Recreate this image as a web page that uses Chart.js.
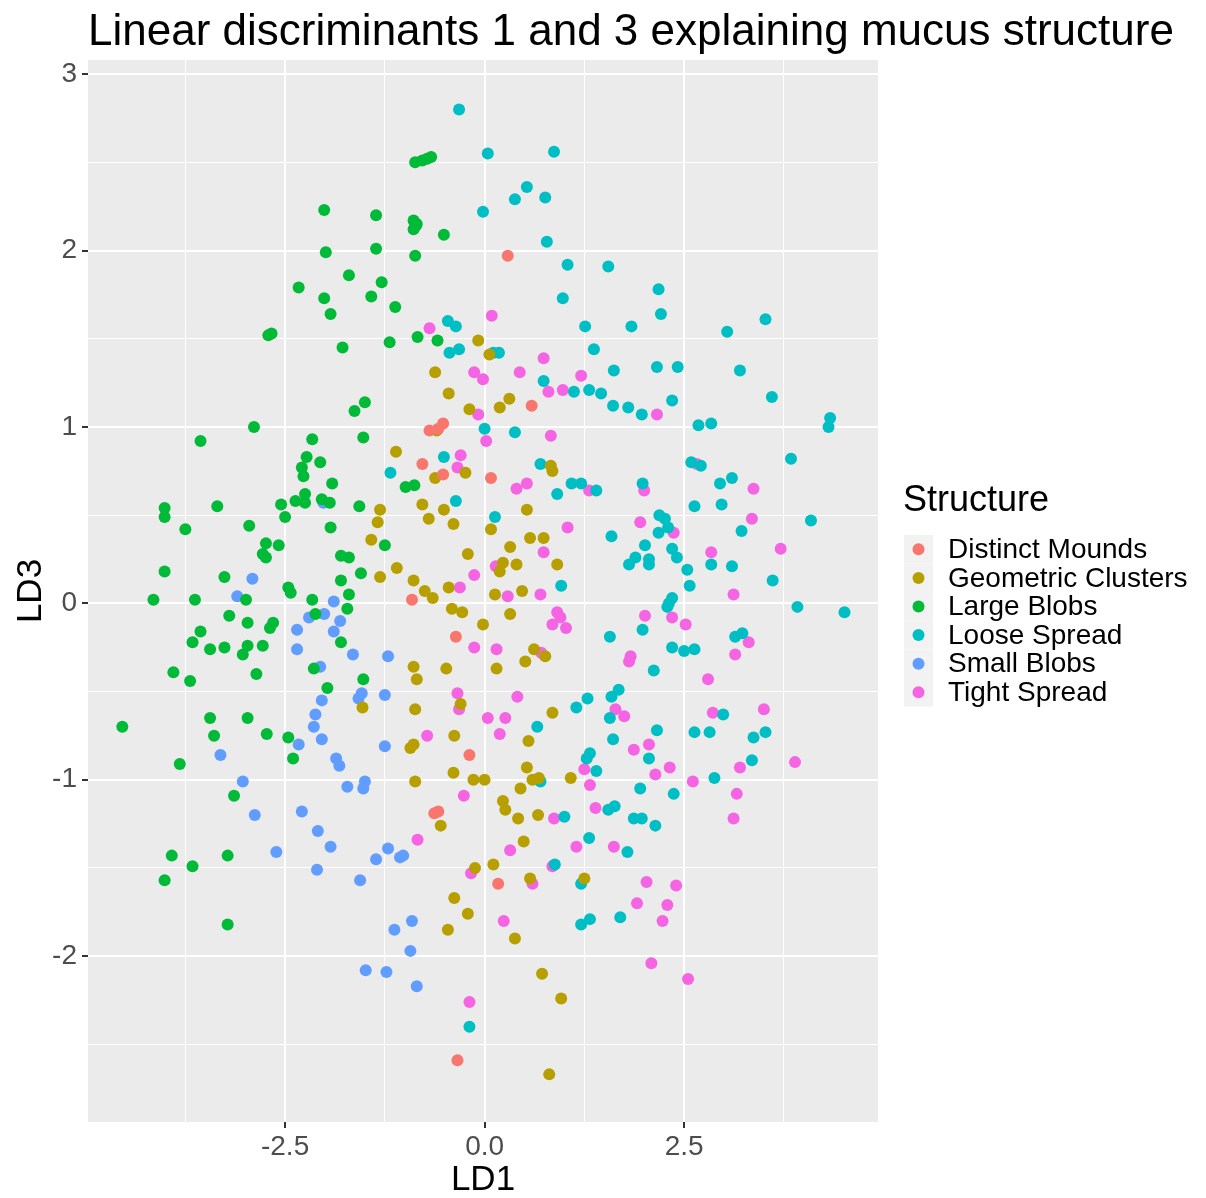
<!DOCTYPE html>
<html>
<head>
<meta charset="utf-8">
<script src="https://cdn.jsdelivr.net/npm/chart.js@4/dist/chart.umd.min.js"></script>
<style>
  html, body { margin: 0; padding: 0; background: #ffffff; }
  canvas { display: block; }
</style>
</head>
<body>
<canvas id="grafico" width="1206" height="1198"></canvas>
<script>
// LD1 / LD3 scores per structure class
const distinctMounds = [
  [0.29, 1.97], [0.59, 1.12], [-0.52, 1.02], [-0.58, 0.99], [-0.69, 0.98], [-0.78, 0.79],
  [-0.52, 0.73], [0.08, 0.71], [-0.91, 0.02], [-0.36, -0.19], [-0.19, -0.86], [-0.58, -1.18],
  [-0.63, -1.19], [0.17, -1.59], [-0.34, -2.59]
];
const geometricClusters = [
  [-0.08, 1.49], [0.06, 1.41], [-0.62, 1.31], [-0.45, 1.19], [0.31, 1.16], [0.19, 1.11],
  [-0.19, 1.10], [-0.60, 0.98], [-1.11, 0.86], [-0.24, 0.74], [-0.62, 0.71], [0.83, 0.78],
  [0.85, 0.75], [-1.31, 0.53], [-0.78, 0.56], [-0.51, 0.53], [-0.70, 0.48], [-0.39, 0.45],
  [-1.34, 0.46], [0.53, 0.53], [0.08, 0.42], [-1.42, 0.36], [-0.21, 0.28], [0.32, 0.32],
  [0.57, 0.37], [0.74, 0.37], [0.40, 0.22], [0.23, 0.23], [0.19, 0.18], [0.91, 0.22],
  [-1.31, 0.15], [-1.10, 0.20], [-0.89, 0.13], [-0.75, 0.07], [-0.65, 0.03], [-0.45, 0.09],
  [0.13, 0.05], [0.47, 0.07], [-0.41, -0.03], [-0.28, -0.05], [0.32, -0.06], [-0.02, -0.12],
  [0.62, -0.26], [0.76, -0.30], [0.51, -0.33], [0.15, -0.37], [-0.48, -0.37], [-0.89, -0.36],
  [-0.85, -0.43], [-1.53, -0.59], [-0.30, -0.57], [-0.87, -0.60], [0.85, -0.62], [-0.38, -0.75],
  [-0.93, -0.82], [-0.89, -0.80], [0.55, -0.78], [0.53, -0.93], [-0.39, -0.96], [-0.14, -1.00],
  [0.00, -1.00], [-0.87, -1.01], [0.60, -1.00], [0.68, -0.99], [1.08, -0.99], [0.45, -1.05],
  [0.23, -1.12], [0.26, -1.17], [-0.55, -1.26], [0.42, -1.22], [0.67, -1.20], [0.49, -1.35],
  [-0.12, -1.50], [0.11, -1.48], [0.57, -1.56], [1.25, -1.56], [-0.38, -1.67], [-0.21, -1.76],
  [-0.46, -1.85], [0.38, -1.90], [0.72, -2.10], [0.96, -2.24], [0.81, -2.67]
];
const largeBlobs = [
  [-2.01, 2.23], [-1.99, 1.99], [-1.70, 1.86], [-2.33, 1.79], [-2.01, 1.73], [-1.93, 1.64],
  [-0.87, 2.50], [-0.78, 2.51], [-0.72, 2.52], [-0.67, 2.53], [-1.36, 2.20], [-0.89, 2.17],
  [-0.85, 2.15], [-0.89, 2.12], [-0.86, 2.14], [-0.51, 2.09], [-1.36, 2.01], [-0.87, 1.97],
  [-1.29, 1.82], [-1.42, 1.74], [-1.12, 1.68],
  [-2.71, 1.52], [-2.67, 1.53], [-1.78, 1.45], [-1.63, 1.09], [-2.89, 1.00], [-3.56, 0.92],
  [-2.16, 0.93], [-2.23, 0.83], [-2.29, 0.77], [-2.27, 0.72], [-2.06, 0.80], [-1.91, 0.68],
  [-2.25, 0.62], [-2.37, 0.58], [-2.25, 0.57], [-2.04, 0.59], [-1.94, 0.57], [-1.57, 0.55],
  [-2.55, 0.56], [-4.01, 0.54], [-4.01, 0.49], [-3.35, 0.55], [-2.50, 0.49], [-3.75, 0.42],
  [-2.95, 0.44], [-1.93, 0.43], [-2.74, 0.34], [-2.58, 0.33], [-2.78, 0.28], [-2.74, 0.26],
  [-1.80, 0.27], [-1.70, 0.26], [-4.01, 0.18], [-3.26, 0.15], [-1.80, 0.13], [-2.46, 0.09],
  [-2.43, 0.06], [-4.15, 0.02], [-3.63, 0.02], [-2.99, 0.02], [-2.16, 0.02], [-1.70, 0.05],
  [-1.55, 0.17],
  [-1.19, 1.48], [-0.84, 1.51], [-0.59, 1.49], [-1.50, 1.14], [-1.52, 0.94], [-0.99, 0.66],
  [-0.88, 0.67], [-1.25, 0.33],
  [-1.72, -0.03], [-3.20, -0.07], [-2.97, -0.11], [-2.65, -0.11], [-2.69, -0.14], [-2.12, -0.06],
  [-3.56, -0.16], [-3.66, -0.22], [-1.80, -0.22], [-3.44, -0.26], [-3.26, -0.25], [-2.97, -0.24],
  [-2.78, -0.24], [-3.03, -0.29], [-3.90, -0.39], [-3.69, -0.44], [-2.86, -0.40], [-2.14, -0.37],
  [-1.97, -0.48], [-2.46, -0.76], [-2.40, -0.88], [-2.73, -0.74], [-3.44, -0.65], [-3.39, -0.75],
  [-2.97, -0.65], [-4.54, -0.70], [-3.82, -0.91], [-3.14, -1.09], [-3.92, -1.43], [-3.22, -1.43],
  [-3.66, -1.49], [-1.52, -0.43], [-4.01, -1.57], [-3.22, -1.82]
];
const looseSpread = [
  [-0.32, 2.80], [0.04, 2.55], [0.87, 2.56], [0.53, 2.36], [0.38, 2.29], [0.76, 2.30],
  [-0.02, 2.22], [0.78, 2.05], [1.04, 1.92], [1.55, 1.91], [0.98, 1.73], [-0.46, 1.60],
  [-0.36, 1.57], [1.26, 1.57],
  [2.18, 1.78], [2.21, 1.64], [1.84, 1.57], [3.52, 1.61], [3.04, 1.54],
  [-0.44, 1.42], [-0.32, 1.44], [0.11, 1.42], [0.18, 1.42], [1.37, 1.44], [1.62, 1.32],
  [0.74, 1.26], [1.12, 1.20], [1.31, 1.21], [1.46, 1.19], [1.61, 1.12], [1.80, 1.11],
  [0.00, 0.99], [0.38, 0.97], [-0.51, 0.83], [-1.18, 0.74], [0.70, 0.79], [1.09, 0.68],
  [1.21, 0.68], [1.40, 0.64], [0.91, 0.62], [-0.36, 0.58], [0.13, 0.49], [1.59, 0.38],
  [0.96, 0.10], [1.81, 0.22],
  [2.16, 1.34], [2.42, 1.34], [3.20, 1.32], [3.60, 1.17], [2.35, 1.15], [1.97, 1.07],
  [2.68, 1.01], [2.84, 1.02], [4.33, 1.05], [4.31, 1.00], [3.84, 0.82], [2.59, 0.80],
  [2.71, 0.78], [3.10, 0.71], [2.95, 0.68], [1.98, 0.68], [2.63, 0.55], [2.97, 0.56],
  [4.09, 0.47], [2.19, 0.50], [2.26, 0.48], [2.30, 0.43], [2.18, 0.40], [3.22, 0.41],
  [2.01, 0.33], [2.35, 0.31], [2.41, 0.26], [1.89, 0.26], [2.06, 0.25], [2.06, 0.22],
  [2.54, 0.19], [2.84, 0.22], [3.10, 0.21], [2.57, 0.10], [3.61, 0.13], [2.35, 0.03],
  [2.31, 0.00], [2.29, -0.02], [3.92, -0.02], [4.51, -0.05], [1.98, -0.15], [3.14, -0.19],
  [3.23, -0.17], [2.35, -0.25], [2.50, -0.27], [2.63, -0.26], [2.12, -0.38], [2.99, -0.63],
  [2.16, -0.72], [2.63, -0.73], [2.82, -0.73], [3.37, -0.76], [3.52, -0.73], [2.06, -0.88],
  [3.35, -0.89], [2.88, -0.99], [1.95, -1.05], [2.37, -1.08], [1.87, -1.22], [1.97, -1.22],
  [2.14, -1.26], [1.79, -1.41],
  [1.57, -0.19], [1.29, -0.54], [1.15, -0.59], [1.59, -0.53], [1.68, -0.49], [1.57, -0.65],
  [0.66, -0.70], [1.61, -0.77], [1.32, -0.85], [1.28, -0.88], [1.40, -0.95], [0.70, -1.01],
  [1.55, -1.17], [1.63, -1.15], [1.00, -1.21], [1.31, -1.33], [0.88, -1.48],
  [1.21, -1.59], [1.21, -1.82], [1.32, -1.79], [1.70, -1.78], [-0.19, -2.40]
];
const smallBlobs = [
  [-2.02, 0.57], [-2.91, 0.14], [-3.10, 0.04], [-1.89, 0.01], [-2.20, -0.08], [-2.01, -0.06],
  [-1.81, -0.10], [-2.35, -0.15], [-1.89, -0.16], [-2.35, -0.26], [-1.65, -0.29], [-2.06, -0.36],
  [-1.58, -0.54], [-1.54, -0.51], [-2.04, -0.55], [-2.12, -0.63], [-2.14, -0.70], [-2.04, -0.77],
  [-2.33, -0.80], [-3.31, -0.86], [-1.86, -0.88], [-1.82, -0.92], [-3.03, -1.01], [-1.72, -1.04],
  [-2.88, -1.20], [-2.29, -1.18], [-2.09, -1.29], [-1.93, -1.38], [-2.61, -1.41], [-2.10, -1.51],
  [-1.56, -1.57], [-1.21, -0.30], [-1.25, -0.52], [-1.25, -0.81], [-1.50, -1.01], [-1.52, -1.05],
  [-1.21, -1.39], [-1.06, -1.44], [-1.02, -1.43], [-1.36, -1.45], [-0.91, -1.80], [-1.13, -1.85],
  [-0.93, -1.97], [-1.49, -2.08], [-1.23, -2.09], [-0.85, -2.17]
];
const tightSpread = [
  [0.09, 1.63], [-0.69, 1.56],
  [0.74, 1.39], [-0.13, 1.31], [-0.02, 1.27], [0.44, 1.31], [1.21, 1.29], [0.80, 1.20],
  [0.98, 1.21], [-0.08, 1.07], [0.83, 0.95], [0.02, 0.92], [-0.30, 0.84], [-0.34, 0.77],
  [0.53, 0.68], [0.40, 0.65], [1.31, 0.64], [1.04, 0.43], [0.74, 0.29], [0.14, 0.21],
  [-0.13, 0.16], [-0.31, 0.09], [0.29, 0.04], [0.70, 0.05],
  [2.16, 1.07], [2.66, 0.79], [3.37, 0.65], [2.00, 0.64], [3.35, 0.48], [1.95, 0.46],
  [2.37, 0.40], [3.71, 0.31], [2.84, 0.29], [3.12, 0.05],
  [0.91, -0.05], [0.95, -0.08], [0.85, -0.12], [1.02, -0.14], [-0.13, -0.25], [0.15, -0.26],
  [0.71, -0.28], [1.83, -0.30], [1.81, -0.33], [-0.34, -0.51], [-0.32, -0.60], [0.41, -0.53],
  [1.64, -0.60], [1.75, -0.64], [0.04, -0.65], [0.26, -0.65], [0.19, -0.74], [-0.72, -0.75],
  [1.25, -0.94], [1.32, -1.03], [-0.26, -1.09], [1.39, -1.16], [0.87, -1.22], [-0.84, -1.34],
  [0.32, -1.40], [1.15, -1.38], [1.62, -1.38], [0.85, -1.49],
  [2.01, -0.07], [2.35, -0.08], [2.52, -0.12], [3.31, -0.22], [3.14, -0.29], [2.80, -0.43],
  [2.86, -0.62], [3.50, -0.60], [2.06, -0.80], [1.87, -0.83], [2.32, -0.93], [2.14, -0.97],
  [3.20, -0.93], [3.89, -0.90], [2.61, -1.01], [3.16, -1.08], [3.12, -1.22],
  [-0.17, -1.53], [0.60, -1.59], [0.24, -1.80], [-0.19, -2.26],
  [2.03, -1.58], [2.40, -1.60], [1.91, -1.70], [2.29, -1.71], [2.23, -1.80], [2.09, -2.04],
  [2.55, -2.13]
];

const structures = ['Distinct Mounds', 'Geometric Clusters', 'Large Blobs', 'Loose Spread', 'Small Blobs', 'Tight Spread'];
const seriesData = [distinctMounds, geometricClusters, largeBlobs, looseSpread, smallBlobs, tightSpread];
const ld1Ticks = [-3.75, -2.5, -1.25, 0, 1.25, 2.5, 3.75];
const ld1Labels = ['', '-2.5', '', '0.0', '', '2.5', ''];
const ld3Ticks = [-2.5, -2, -1.5, -1, -0.5, 0, 0.5, 1, 1.5, 2, 2.5, 3];
const ld3Labels = ['', '-2', '', '-1', '', '0', '', '1', '', '2', '', '3'];

const cores = ['#F8766D', '#B79F00', '#00BA38', '#00BFC4', '#619CFF', '#F564E3'];
const fonte = '"Liberation Sans", Arial, sans-serif';
const raio = 6;

const datasets = structures.map((nome, i) => ({
  label: nome,
  data: seriesData[i].map(p => ({ x: p[0], y: p[1] })),
  backgroundColor: cores[i],
  borderWidth: 0,
  pointRadius: raio,
  pointHoverRadius: raio
}));

// grey panel behind the points
const fundoPainel = {
  id: 'fundoPainel',
  beforeDraw(chart) {
    const { ctx, chartArea: a } = chart;
    ctx.save();
    ctx.fillStyle = '#EBEBEB';
    ctx.fillRect(a.left, a.top, a.right - a.left, a.bottom - a.top);
    ctx.restore();
  }
};

// title and the legend on the right
const textos = {
  id: 'textos',
  afterDraw(chart) {
    const { ctx, chartArea: a } = chart;
    ctx.save();
    ctx.fillStyle = '#000000';
    ctx.textBaseline = 'alphabetic';
    ctx.textAlign = 'left';
    ctx.font = '44px ' + fonte;
    ctx.fillText('Linear discriminants 1 and 3 explaining mucus structure', a.left, 45);

    ctx.font = '36px ' + fonte;
    ctx.fillText('Structure', 903, 511);

    const topo = 535, passo = 28.6;
    ctx.font = '28px ' + fonte;
    ctx.textBaseline = 'middle';
    structures.forEach((nome, i) => {
      const y0 = topo + i * passo;
      ctx.fillStyle = '#F2F2F2';
      ctx.fillRect(904, y0, 29, passo);
      ctx.fillStyle = cores[i];
      ctx.beginPath();
      ctx.arc(918.5, y0 + passo / 2, raio, 0, Math.PI * 2);
      ctx.fill();
      ctx.fillStyle = '#000000';
      ctx.fillText(nome, 948, y0 + passo / 2 + 1);
    });
    ctx.restore();
  }
};

function eixo(valores, rotulos, titulo, min, max, ajuste, pad) {
  return {
    type: 'linear',
    min: min,
    max: max,
    afterBuildTicks(scale) {
      scale.ticks = valores.map(v => ({ value: v }));
    },
    afterFit: ajuste,
    border: { display: false },
    grid: {
      color: '#FFFFFF',
      lineWidth: ctx => (rotulos[valores.indexOf(ctx.tick.value)] === '' ? 1 : 2),
      tickColor: ctx => (rotulos[valores.indexOf(ctx.tick.value)] === '' ? 'rgba(0,0,0,0)' : '#333333'),
      tickWidth: 2,
      tickLength: 6
    },
    ticks: {
      autoSkip: false,
      maxRotation: 0,
      padding: pad,
      color: '#4D4D4D',
      font: { size: 28, family: fonte },
      callback: v => rotulos[valores.indexOf(v)]
    },
    title: {
      display: true,
      text: titulo,
      color: '#000000',
      font: { size: 35, family: fonte, lineHeight: 1 },
      padding: { top: 14, bottom: 0 }
    }
  };
}

new Chart(document.getElementById('grafico'), {
  type: 'scatter',
  data: { datasets: datasets },
  options: {
    responsive: false,
    animation: false,
    devicePixelRatio: 1,
    layout: { padding: { left: 0, top: 60, right: 328, bottom: 0 } },
    plugins: {
      legend: { display: false },
      title: { display: false },
      tooltip: { enabled: false }
    },
    events: [],
    scales: {
      x: eixo(ld1Ticks, ld1Labels, 'LD1', -4.97, 4.93, s => { s.height = 76; }, 2),
      y: eixo(ld3Ticks, ld3Labels, 'LD3', -2.94, 3.08, s => { s.width = 88; }, 5)
    }
  },
  plugins: [fundoPainel, textos]
});
</script>
</body>
</html>
